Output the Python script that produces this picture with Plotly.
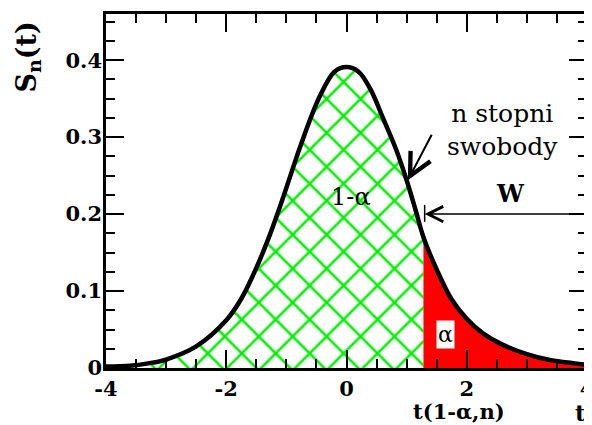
import plotly.graph_objects as go

# ---- data ----
t_vals = [-4.0, -3.6, -3.3, -3.0, -2.5, -2.0, -1.75, -1.5, -1.28, -1.07, -0.75, -0.45, -0.2,
          0.0, 0.2, 0.4, 0.6, 0.83, 1.0, 1.15, 1.28, 1.5, 1.75, 2.0, 2.27, 2.55, 3.0, 3.4, 3.8, 4.0]
s_vals = [0.002, 0.003, 0.006, 0.011, 0.028, 0.062, 0.090, 0.130, 0.172, 0.218, 0.292, 0.352, 0.385,
          0.391, 0.385, 0.362, 0.326, 0.283, 0.244, 0.205, 0.170, 0.128, 0.089, 0.064, 0.045, 0.032,
          0.018, 0.010, 0.006, 0.004]
t_crit = 1.28

x_tick_vals = [-4, -2, 0, 2, 4]
x_tick_text = ["-4", "-2", "0", "2", "4"]
y_tick_vals = [0, 0.1, 0.2, 0.3, 0.4]
y_tick_text = ["0", "0.1", "0.2", "0.3", "0.4"]

left_t = [t for t in t_vals if t <= t_crit]
left_s = [s for t, s in zip(t_vals, s_vals) if t <= t_crit]
right_t = [t for t in t_vals if t >= t_crit]
right_s = [s for t, s in zip(t_vals, s_vals) if t >= t_crit]

GREEN = "#00ee00"
SERIF = "DejaVu Serif"

fig = go.Figure()
fig.add_trace(go.Scatter(
    x=left_t, y=left_s, mode="lines", line=dict(width=0, shape="spline", color=GREEN),
    fill="tozeroy", fillcolor="white",
    fillpattern=dict(shape="x", fgcolor=GREEN, fgopacity=1, bgcolor="white", size=24, solidity=0.2),
    hoverinfo="skip", showlegend=False))
fig.add_trace(go.Scatter(
    x=right_t, y=right_s, mode="lines", line=dict(width=0, shape="spline", color="red"),
    fill="tozeroy", fillcolor="#ff0000", hoverinfo="skip", showlegend=False))
fig.add_trace(go.Scatter(
    x=t_vals, y=s_vals, mode="lines", line=dict(width=4.5, shape="spline", color="black"),
    showlegend=False))

tickfont = dict(family=SERIF, size=21, color="black", weight="bold")
axis_common = dict(showline=True, linecolor="black", linewidth=2.5, mirror="ticks",
                   ticks="inside", ticklen=18, tickwidth=2, tickcolor="black",
                   showgrid=False, zeroline=False, tickfont=tickfont, automargin=False,
                   ticklabeloverflow="allow")

fig.update_xaxes(range=[-4, 4], tickmode="array", tickvals=x_tick_vals, ticktext=x_tick_text,
                 minor=dict(ticks="inside", ticklen=9, tickwidth=2, tickcolor="black", dtick=0.5, showgrid=False),
                 ticklabelstandoff=0, **axis_common)
fig.update_yaxes(range=[0, 0.46], tickmode="array", tickvals=y_tick_vals, ticktext=y_tick_text,
                 minor=dict(ticks="inside", ticklen=9, tickwidth=2, tickcolor="black", dtick=0.025, showgrid=False),
                 ticklabelstandoff=-3, **axis_common)

ann_font = dict(family=SERIF, size=24, color="black")
annotations = [
    dict(x=0.08, y=0.222, xref="x", yref="y", text="1-α", showarrow=False, font=ann_font),
    dict(x=1.65, y=0.043, xref="x", yref="y", text="α", showarrow=False, bgcolor="white",
         borderpad=1, font=dict(family=SERIF, size=22, color="black")),
    dict(x=2.6, y=0.309, xref="x", yref="y", text="n stopni<br>swobody", showarrow=False,
         font=dict(family=SERIF, size=25, color="black")),
    dict(x=2.72, y=0.227, xref="x", yref="y", text="W", showarrow=False,
         font=dict(family=SERIF, size=24, color="black", weight="bold")),
    dict(x=1.02, y=0.244, xref="x", yref="y", ax=1.43, ay=0.305, axref="x", ayref="y",
         text="", showarrow=True, arrowhead=5, arrowsize=2.2, arrowwidth=2, arrowcolor="black"),
    dict(x=1.3, y=0.2, xref="x", yref="y", ax=4, ay=0.2, axref="x", ayref="y",
         text="", showarrow=True, arrowhead=5, arrowsize=2, arrowwidth=1.5, arrowcolor="black"),
    dict(x=1.87, y=-0.124, xref="x", yref="paper", xanchor="center", yanchor="middle",
         text="t(1-α,n)", showarrow=False,
         font=dict(family=SERIF, size=21, color="black", weight="bold")),
    dict(x=0.986, y=-0.126, xref="paper", yref="paper", xanchor="center", yanchor="middle",
         text="t", showarrow=False,
         font=dict(family=SERIF, size=23, color="black", weight="bold")),
    dict(x=-0.162, y=0.877, xref="paper", yref="paper", xanchor="center", yanchor="middle",
         text="S<sub>n</sub>(t)", textangle=-90,
         showarrow=False, font=dict(family=SERIF, size=27, color="black", weight="bold")),
]

# the page body adds an 8 px margin, so the figure is sized to the visible area
fig.update_layout(
    width=584, height=417, autosize=False,
    margin=dict(l=98, r=5, t=6, b=57, autoexpand=False),
    paper_bgcolor="white", plot_bgcolor="white",
    annotations=annotations,
    shapes=[dict(type="line", xref="x", yref="y", x0=1.3, x1=1.3, y0=0.19, y1=0.212,
                 line=dict(color="black", width=1.5))],
)

fig.write_html("out.html")
